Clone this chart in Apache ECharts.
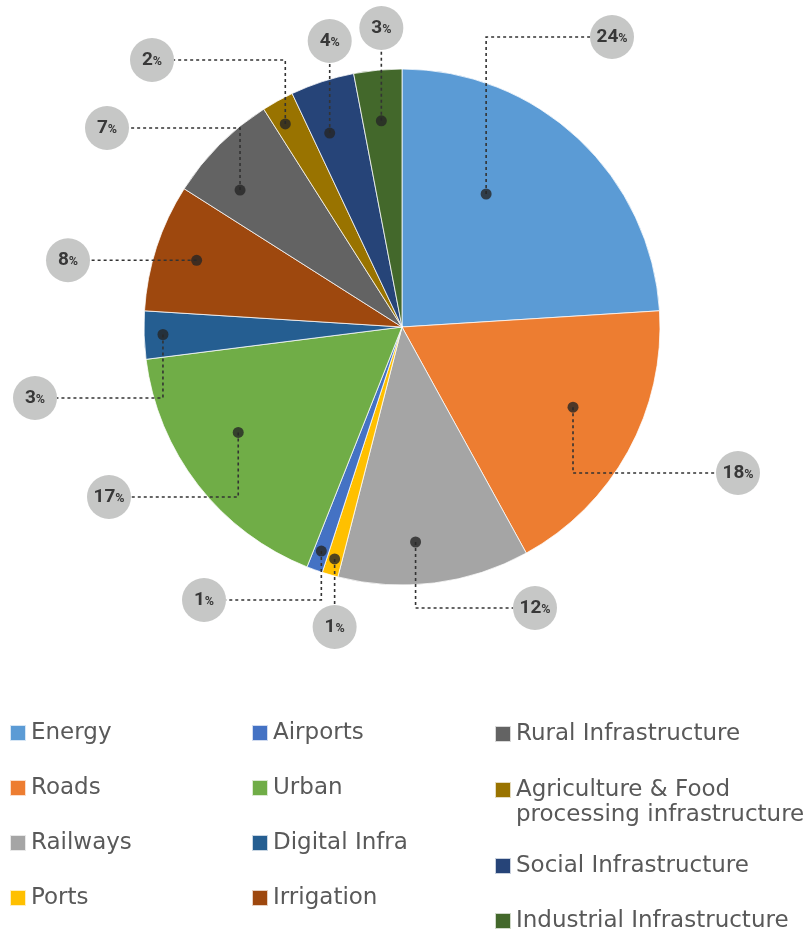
<!DOCTYPE html>
<html>
<head>
<meta charset="utf-8">
<script src="https://cdn.jsdelivr.net/npm/echarts@6/dist/echarts.min.js"></script>
<style>
  html, body { margin: 0; padding: 0; background: #fff; }
  #chart { width: 809px; height: 932px; }
</style>
</head>
<body>
<div id="chart"></div>
<script>
// Investment share by infrastructure sector (%)
const categories = [
  'Energy', 'Roads', 'Railways', 'Ports', 'Airports', 'Urban',
  'Digital Infra', 'Irrigation', 'Rural Infrastructure',
  'Agriculture & Food processing infrastructure',
  'Social Infrastructure', 'Industrial Infrastructure'
];
const shares = [24, 18, 12, 1, 1, 17, 3, 8, 7, 2, 4, 3];

const colors = [
  '#5B9BD5', '#ED7D31', '#A5A5A5', '#FFC000', '#4472C4', '#70AD47',
  '#255E91', '#9E480E', '#636363', '#997300', '#264478', '#43682B'
];

// Pie geometry
const CX = 402, CY = 327, R = 258;

// Where each leader line starts inside its slice: [fraction along the slice's arc, fraction of radius]
const anchorLayout = [
  [0.374, 0.61], [0.443, 0.732], [0.583, 0.835], [0.5, 0.936],
  [0.5, 0.923], [0.582, 0.755], [0.5, 0.927], [0.5, 0.837],
  [0.31, 0.822], [0.35, 0.908], [0.33, 0.802], [0.47, 0.803]
];
// Value bubble centres and how the leader line is routed to them
// 'v' = vertical then horizontal, 'h' = horizontal only, 's' = straight vertical
const bubbleLayout = [
  [612, 37, 'v'], [738, 473, 'v'], [535, 608, 'v'], [0, 627, 's'],
  [204, 600, 'v'], [109, 497, 'v'], [35, 398, 'v'], [68, 0, 'h'],
  [107, 128, 'v'], [152, 60, 'v'], [0, 41, 's'], [0, 28, 's']
];
const BUBBLE_R = 22;

const total = shares.reduce((a, b) => a + b, 0);
const starts = [];
shares.reduce((acc, v) => { starts.push(acc); return acc + v; }, 0);

// anchor positions in polar terms: [radius fraction, angle in percent of circle]
const anchors = shares.map((v, i) => [
  anchorLayout[i][1],
  (starts[i] + v * anchorLayout[i][0]) / total * 100
]);

function anchorPixel(i) {
  const th = anchors[i][1] / 100 * Math.PI * 2;
  const r = anchors[i][0] * R;
  return [CX + r * Math.sin(th), CY - r * Math.cos(th)];
}

const chart = echarts.init(document.getElementById('chart'), null, { renderer: 'canvas' });

const legendText = {
  color: '#595959',
  fontFamily: 'DejaVu Sans',
  fontSize: 23,
  lineHeight: 24
};
const legendBase = {
  orient: 'vertical',
  icon: 'rect',
  itemWidth: 16,
  itemHeight: 16,
  itemGap: 31,
  padding: 0,
  selectedMode: false,
  textStyle: legendText
};

const pieData = categories.map((c, i) => ({ name: c, value: shares[i] }));
const labelFont = 'Roboto, sans-serif';

const option = {
  animation: false,
  backgroundColor: '#ffffff',
  color: colors,
  polar: { center: [CX, CY], radius: R },
  angleAxis: { type: 'value', min: 0, max: 100, startAngle: 90, clockwise: true, show: false },
  radiusAxis: { type: 'value', min: 0, max: 1, show: false },
  legend: [
    Object.assign({}, legendBase, { left: 9, top: 721, data: categories.slice(0, 4) }),
    Object.assign({}, legendBase, { left: 251, top: 721, data: categories.slice(4, 8) }),
    Object.assign({}, legendBase, { left: 494, top: 722, data: [categories[8]] }),
    Object.assign({}, legendBase, {
      left: 494, top: 752.5, data: [categories[9]],
      // blank first line keeps the first text line level with the swatch
      formatter: n => '\n' + n.replace(' processing', '\nprocessing'),
      textStyle: Object.assign({}, legendText, { lineHeight: 25 })
    }),
    Object.assign({}, legendBase, { left: 494, top: 854, data: [categories[10]] }),
    Object.assign({}, legendBase, { left: 494, top: 909, data: [categories[11]] })
  ],
  series: [
    {
      // coloured slices
      type: 'pie',
      center: [CX, CY],
      radius: R,
      startAngle: 90,
      clockwise: true,
      z: 2,
      emphasis: { disabled: true },
      itemStyle: { borderColor: 'rgba(255,255,255,0.75)', borderWidth: 1 },
      label: { show: false },
      labelLine: { show: false },
      data: pieData
    },
    {
      // value bubbles and leader lines, drawn above the slices
      type: 'pie',
      center: [CX, CY],
      radius: R,
      startAngle: 90,
      clockwise: true,
      z: 4,
      silent: true,
      avoidLabelOverlap: false,
      emphasis: { disabled: true },
      itemStyle: { color: 'rgba(0,0,0,0)', borderWidth: 0 },
      data: pieData,
      label: {
        show: true,
        position: 'outside',
        formatter: p => '{n|' + p.value + '}{p|%}',
        backgroundColor: '#C6C7C6',
        borderRadius: BUBBLE_R,
        width: BUBBLE_R * 2,
        height: BUBBLE_R * 2,
        align: 'center',
        rich: {
          n: { fontFamily: labelFont, fontWeight: 'bold', fontSize: 19, color: '#383838', lineHeight: 44 },
          p: { fontFamily: labelFont, fontWeight: 'bold', fontSize: 12.5, color: '#383838', lineHeight: 44, padding: [4, 0, 0, 0] }
        }
      },
      labelLine: {
        show: true,
        lineStyle: { color: '#333333', width: 1.6, type: [3, 3] }
      },
      labelLayout: function (params) {
        const i = params.dataIndex;
        const a = anchorPixel(i);
        let lx = bubbleLayout[i][0], ly = bubbleLayout[i][1];
        const mode = bubbleLayout[i][2];
        let pts;
        if (mode === 's') {
          lx = a[0];
          pts = [a, [a[0], ly + (ly > a[1] ? -BUBBLE_R : BUBBLE_R)]];
        } else if (mode === 'h') {
          ly = a[1];
          pts = [a, [lx + (lx > a[0] ? -BUBBLE_R : BUBBLE_R), a[1]]];
        } else {
          pts = [a, [a[0], ly], [lx + (lx > a[0] ? -BUBBLE_R : BUBBLE_R), ly]];
        }
        return { x: lx, y: ly, align: 'center', verticalAlign: 'middle', labelLinePoints: pts };
      }
    },
    {
      // leader line end dots
      type: 'scatter',
      coordinateSystem: 'polar',
      symbol: 'circle',
      symbolSize: 11,
      z: 6,
      silent: true,
      itemStyle: { color: '#262626' },
      data: anchors
    }
  ]
};

chart.setOption(option);
</script>
</body>
</html>
